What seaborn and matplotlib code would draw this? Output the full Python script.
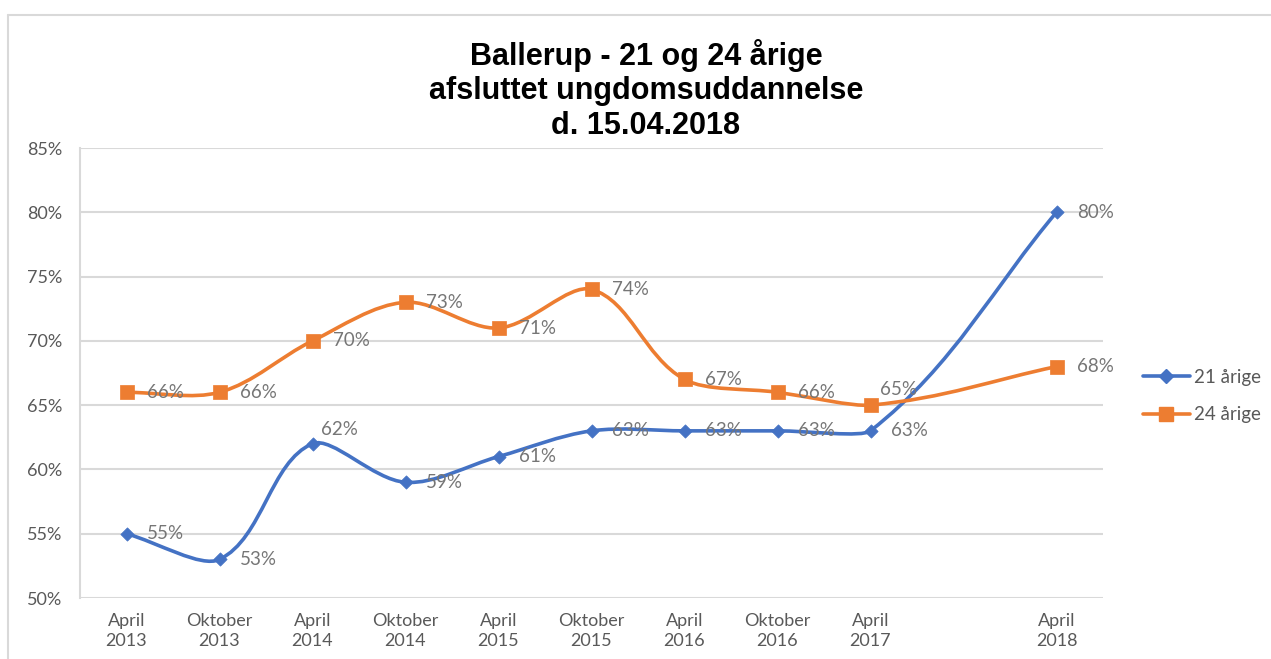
import numpy as np
import pandas as pd
import matplotlib
matplotlib.use("Agg")
import matplotlib.pyplot as plt
from matplotlib.path import Path
from matplotlib.patches import PathPatch
from matplotlib.lines import Line2D
from matplotlib.ticker import FuncFormatter
import seaborn as sns

# --- DATA ---
categories = ["April\n2013", "Oktober\n2013", "April\n2014", "Oktober\n2014",
              "April\n2015", "Oktober\n2015", "April\n2016", "Oktober\n2016",
              "April\n2017", "", "April\n2018"]
series_names = ["21 årige", "24 årige"]
values_21 = [55, 53, 62, 59, 61, 63, 63, 63, 63, np.nan, 80]
values_24 = [66, 66, 70, 73, 71, 74, 67, 66, 65, np.nan, 68]
title_lines = ["Ballerup - 21 og 24 årige", "afsluttet ungdomsuddannelse", "d. 15.04.2018"]
y_ticks = [50, 55, 60, 65, 70, 75, 80, 85]

# --- STYLE ---
COLORS = {"21 årige": "#4472C4", "24 årige": "#ED7D31"}
MARKERS = {"21 årige": "D", "24 årige": "s"}
SIZES = {"21 årige": 46, "24 årige": 115}
GRID = "#D9D9D9"
TICK_COL = "#595959"
LABEL_COL = "#767676"

sns.set_style("white")
plt.rcParams["font.family"] = ["Lato", "DejaVu Sans"]

df = pd.DataFrame({
    "pos": list(range(len(categories))) * 2,
    "value": values_21 + values_24,
    "serie": [series_names[0]] * len(categories) + [series_names[1]] * len(categories),
})


def smooth_path(ax, xs, ys):
    """Excel-like smoothed line: bezier with tangents split by segment length (on screen)."""
    pts = np.array([(x, y) for x, y in zip(xs, ys) if not np.isnan(y)], dtype=float)
    scr = ax.transData.transform(pts)
    n = len(pts)
    arms_in, arms_out = [], []
    for i in range(n):
        a = i - 1 if i > 0 else i
        b = i + 1 if i + 1 < n else i
        tang = pts[b] - pts[a]
        d_in = np.linalg.norm(scr[i] - scr[a]) ** 2
        d_out = np.linalg.norm(scr[b] - scr[i]) ** 2
        tot = d_in + d_out
        arms_in.append(tang * (d_in / tot) / 3.0)
        arms_out.append(tang * (d_out / tot) / 3.0)
    verts = [tuple(pts[0])]
    codes = [Path.MOVETO]
    for i in range(n - 1):
        verts += [tuple(pts[i] + arms_out[i]), tuple(pts[i + 1] - arms_in[i + 1]),
                  tuple(pts[i + 1])]
        codes += [Path.CURVE4] * 3
    return Path(verts, codes)


fig = plt.figure(figsize=(12.71, 6.59), dpi=100)
ax = fig.add_axes([80 / 1271, 1 - 598 / 659, (1103 - 80) / 1271, (598 - 148) / 659])
ax.set_xlim(-0.5, len(categories) - 0.5)
ax.set_ylim(50, 85)

# smoothed lines
for name, vals in zip(series_names, [values_21, values_24]):
    patch = PathPatch(smooth_path(ax, range(len(categories)), vals), facecolor="none",
                      edgecolor=COLORS[name], lw=2.6, capstyle="round", zorder=3)
    ax.add_patch(patch)

# markers
for name in series_names:
    sub = df[df["serie"] == name]
    sns.scatterplot(data=sub, x="pos", y="value", marker=MARKERS[name], s=SIZES[name],
                    color=COLORS[name], edgecolor=COLORS[name], linewidth=0.5,
                    ax=ax, legend=False, zorder=4)

# data labels
special = {("21 årige", 2): (6, 10), ("24 årige", 8): (7, 11)}
for name, vals in zip(series_names, [values_21, values_24]):
    for i, v in enumerate(vals):
        if np.isnan(v):
            continue
        off = special.get((name, i), (15, 0))
        ax.annotate(f"{int(v)}%", (i, v), xytext=off, textcoords="offset points",
                    ha="left", va="center", fontsize=13.5, color=LABEL_COL, zorder=5)

ax.set_xlim(-0.5, len(categories) - 0.5)
ax.set_ylim(50, 85)
ax.set_yticks(y_ticks)
ax.yaxis.set_major_formatter(FuncFormatter(lambda v, p: f"{int(v)}%"))
ax.set_xticks(range(len(categories)))
ax.set_xticklabels(categories, fontsize=13, color=TICK_COL, linespacing=1.25)
ax.tick_params(axis="x", length=0, pad=11)
ax.tick_params(axis="y", length=0, pad=13, labelsize=13, labelcolor=TICK_COL)
ax.set_xlabel("")
ax.set_ylabel("")
ax.grid(axis="y", color=GRID, lw=1.5)
ax.set_axisbelow(True)
for side in ["top", "right", "bottom"]:
    ax.spines[side].set_visible(False)
ax.spines["left"].set_color(GRID)
ax.spines["left"].set_linewidth(1.5)

# title
fig.text(646 / 1271, 1 - 90 / 659, "\n".join(title_lines), ha="center", va="center",
         fontsize=22, fontweight="bold", family="Liberation Sans", color="#000000",
         linespacing=1.2)

# legend
handles = [Line2D([0], [0], color=COLORS[n], lw=2.6, marker=MARKERS[n],
                  markersize=7 if n == "21 årige" else 10, markeredgecolor=COLORS[n])
           for n in series_names]
fig.legend(handles, series_names, loc="center left",
           bbox_to_anchor=(1126 / 1271, 1 - 396 / 659), frameon=False,
           fontsize=13.5, labelcolor=TICK_COL, handlelength=2.5, handletextpad=0.25,
           labelspacing=1.1)

# chart border (left and top)
fig.add_artist(Line2D([8 / 1271, 8 / 1271], [0, 1 - 15 / 659], transform=fig.transFigure,
                      color=GRID, lw=1.5))
fig.add_artist(Line2D([8 / 1271, 1], [1 - 15 / 659, 1 - 15 / 659], transform=fig.transFigure,
                      color=GRID, lw=1.5))

fig.savefig("out.png", dpi=100)
